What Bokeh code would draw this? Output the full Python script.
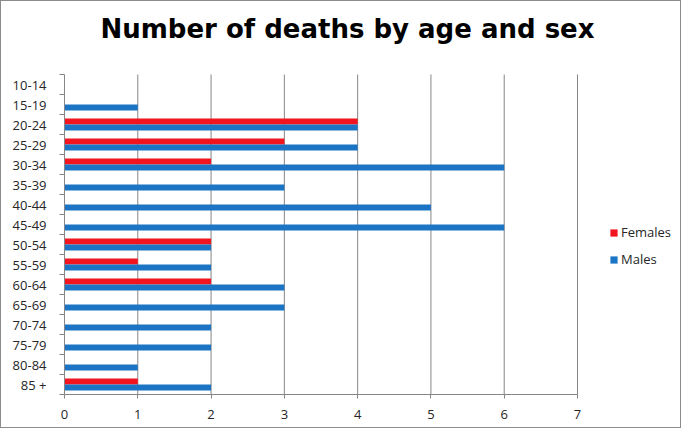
from bokeh.plotting import figure
from bokeh.models import FixedTicker, Legend, LegendItem, ColumnDataSource, Range1d, Label
from bokeh.embed import file_html
from bokeh.resources import INLINE

ages = ["10-14", "15-19", "20-24", "25-29", "30-34", "35-39", "40-44", "45-49",
        "50-54", "55-59", "60-64", "65-69", "70-74", "75-79", "80-84", "85 +"]
females = [0, 0, 4, 3, 2, 0, 0, 0, 2, 1, 2, 0, 0, 0, 0, 1]
males = [0, 1, 4, 4, 6, 3, 5, 6, 2, 2, 3, 3, 2, 2, 1, 2]
x_ticks = [0, 1, 2, 3, 4, 5, 6, 7]

RED = "#F2141E"
BLUE = "#1C74C4"
FONT = "Open Sans"
TXT = "#262626"
GRID = "#868686"

# layout (pixels)
W, H = 681, 428
LEFT, BOTTOM = 63, 35
PLOT_W, PLOT_H = 513, 320          # width of 0..7 and height of the category band
FRAME_W, FRAME_H = W - LEFT, H - BOTTOM

n = len(ages)
xmax = x_ticks[-1]
centers = [n - 0.5 - i for i in range(n)]
src = ColumnDataSource(dict(
    age=ages, f=females, m=males,
    yf=[c + 0.15 for c in centers],
    ym=[c - 0.15 for c in centers],
))

p = figure(width=W, height=H,
           x_range=Range1d(0, xmax * FRAME_W / PLOT_W),
           y_range=Range1d(0, n * FRAME_H / PLOT_H),
           output_backend="svg", toolbar_location=None,
           min_border_left=LEFT, min_border_right=0, min_border_top=0, min_border_bottom=BOTTOM)
p.title.visible = False

# vertical grid lines
p.segment(x0=x_ticks[1:], y0=0, x1=x_ticks[1:], y1=n, line_color=GRID, line_width=1)

rf = p.hbar(y="yf", right="f", left=0, height=0.3, fill_color=RED, line_color=None, source=src)
rm = p.hbar(y="ym", right="m", left=0, height=0.3, fill_color=BLUE, line_color=None, source=src)

legend = Legend(items=[LegendItem(label="Females", renderers=[rf]),
                       LegendItem(label="Males", renderers=[rm])],
                location=(PLOT_W + 32, 125), glyph_width=9, glyph_height=9, label_height=20,
                spacing=7, padding=0, margin=0, label_standoff=3,
                label_text_font=FONT, label_text_font_size="13px", label_text_color=TXT,
                border_line_color=None, background_fill_alpha=0)
p.add_layout(legend, "center")

title = Label(text="Number of deaths by age and sex", x=36, y=FRAME_H - 27,
              x_units="screen", y_units="screen", text_baseline="alphabetic",
              text_font="DejaVu Sans", text_font_size="26px", text_font_style="bold",
              text_color="#000000")
p.add_layout(title)

# y axis: labels at centers, tick marks at boundaries
p.yaxis.bounds = (0, n)
p.yaxis.ticker = FixedTicker(ticks=centers, minor_ticks=list(range(n + 1)))
p.yaxis.major_label_overrides = {c: a for c, a in zip(centers, ages)}
p.yaxis.major_tick_out = 0
p.yaxis.major_tick_in = 0
p.yaxis.minor_tick_out = 5
p.yaxis.minor_tick_in = 0
p.yaxis.major_label_standoff = 13
p.yaxis.axis_line_color = GRID
p.yaxis.minor_tick_line_color = GRID
p.yaxis.major_label_text_font = FONT
p.yaxis.major_label_text_font_size = "13px"
p.yaxis.major_label_text_color = TXT

# x axis
p.xaxis.bounds = (0, xmax)
p.xaxis.ticker = FixedTicker(ticks=x_ticks)
p.xaxis.major_tick_out = 4
p.xaxis.major_tick_in = 0
p.xaxis.minor_tick_line_color = None
p.xaxis.major_label_standoff = 11
p.xaxis.axis_line_color = GRID
p.xaxis.major_tick_line_color = GRID
p.xaxis.major_label_text_font = FONT
p.xaxis.major_label_text_font_size = "13px"
p.xaxis.major_label_text_color = TXT

p.xgrid.visible = False
p.ygrid.visible = False
p.outline_line_color = None
p.background_fill_color = "white"
p.border_fill_color = "white"
p.styles = {"border": "1px solid #8c8c8c"}

open("out.html", "w").write(file_html(p, INLINE))
